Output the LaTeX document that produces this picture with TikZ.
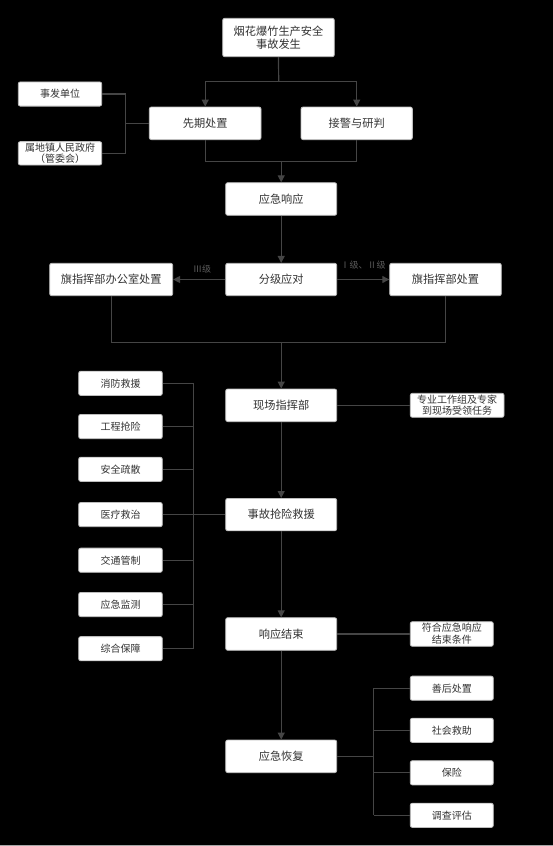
\documentclass[tikz,border=0pt]{standalone}
\usepackage{fontspec}
\setmainfont{Noto Sans CJK SC}
\usetikzlibrary{arrows.meta}
\definecolor{lncol}{HTML}{454545}
\definecolor{bxline}{HTML}{BDBDBD}
\definecolor{txcol}{HTML}{333333}
\definecolor{lbcol}{HTML}{5A5A5A}
\tikzset{
  bigbox/.style={draw=bxline, line width=0.8pt, fill=white, rounded corners=2pt, text=txcol,
    minimum width=111pt, minimum height=32.6pt, inner sep=0pt, align=center,
    font=\fontsize{11.2}{13.3}\selectfont},
  smallbox/.style={draw=bxline, line width=0.8pt, fill=white, rounded corners=2pt, text=txcol,
    minimum width=83.4pt, minimum height=24.2pt, inner sep=0pt, align=center,
    font=\fontsize{10}{11.7}\selectfont},
  conn/.style={draw=lncol, line width=1.2pt},
  arr/.style={conn, -{Triangle[length=7pt,width=7pt]}},
  lbl/.style={text=lbcol, font=\fontsize{9}{10}\selectfont, inner sep=0pt}
}
\begin{document}
\begin{tikzpicture}[x=1pt,y=-1pt]
\fill[black] (0,0) rectangle (553,846);
\useasboundingbox (0,0) rectangle (553,846);
\draw[color=gray!70, line width=1pt] (0,845.5) -- (553,845.5);

% main column
\node[bigbox, minimum width=111.6pt, minimum height=38.4pt] (top) at (278.5,37.5) {烟花爆竹生产安全\\事故发生};
\node[bigbox, minimum width=111.7pt] (xq) at (205.2,123.3) {先期处置};
\node[bigbox, minimum width=111.3pt] (jj) at (356.7,123.3) {接警与研判};
\node[smallbox] (sf) at (60,94) {事发单位};
\node[smallbox, minimum height=23.4pt] (sd) at (60,153.3) {属地镇人民政府\\（管委会）};
\node[bigbox] (yjxy) at (281.2,199) {应急响应};
\node[bigbox, minimum height=32.4pt] (fj) at (281.2,279.5) {分级应对};
\node[bigbox, minimum width=123pt, minimum height=32.4pt] (qb) at (111.2,279.5) {旗指挥部办公室处置};
\node[bigbox, minimum width=111.6pt, minimum height=32.4pt] (qz) at (445.5,279.5) {旗指挥部处置};
\node[bigbox] (xc) at (281.2,405.3) {现场指挥部};
\node[smallbox, minimum width=93.7pt, minimum height=24pt] (zy) at (457.2,405.3) {专业工作组及专家\\到现场受领任务};
\node[bigbox, minimum height=32.4pt] (sg) at (281.2,514.6) {事故抢险救援};
\node[bigbox] (xyjs) at (281.2,634) {响应结束};
\node[smallbox, minimum width=83pt, minimum height=24.6pt] (fh) at (451.8,634) {符合应急响应\\结束条件};
\node[bigbox] (yjhf) at (281.2,756.3) {应急恢复};

% left rescue boxes
\node[smallbox, minimum width=83.6pt] (l1) at (120.5,383.3) {消防救援};
\node[smallbox, minimum width=83.6pt] (l2) at (120.5,426.5) {工程抢险};
\node[smallbox, minimum width=83.6pt] (l3) at (120.5,469.3) {安全疏散};
\node[smallbox, minimum width=83.6pt] (l4) at (120.5,514.6) {医疗救治};
\node[smallbox, minimum width=83.6pt] (l5) at (120.5,560.2) {交通管制};
\node[smallbox, minimum width=83.6pt] (l6) at (120.5,604.5) {应急监测};
\node[smallbox, minimum width=83.6pt] (l7) at (120.5,648.7) {综合保障};

% right recovery boxes
\node[smallbox, minimum width=83pt] (r1) at (451.8,688.2) {善后处置};
\node[smallbox, minimum width=83pt] (r2) at (451.8,730.3) {社会救助};
\node[smallbox, minimum width=83pt] (r3) at (451.8,772.8) {保险};
\node[smallbox, minimum width=83pt] (r4) at (451.8,815.3) {调查评估};

% coordinates
\coordinate (t1) at (278.7,81.7);
\coordinate (b1) at (125.7,123.3);
\coordinate (m1) at (281.2,161.3);
\coordinate (m2) at (281.2,342.7);
\coordinate (v1) at (193.7,383.3);
\coordinate (v2) at (193.7,648.7);
\coordinate (v3) at (373.7,688.2);
\coordinate (v4) at (373.7,815.3);

% connectors
\draw[conn] (top.south) -- (t1);
\draw[arr] (t1) -| (xq.north);
\draw[arr] (t1) -| (jj.north);
\draw[conn] (sf.east) -| (b1) |- (sd.east);
\draw[conn] (b1) -- (xq.west);
\draw[conn] (xq.south) |- (m1) -| (jj.south);
\draw[arr] (m1) -- (yjxy.north);
\draw[arr] (yjxy.south) -- (fj.north);
\draw[arr] (fj.west) -- (qb.east);
\draw[arr] (fj.east) -- (qz.west);
\node[lbl] (lab3) at (202,269) {Ⅲ级};
\node[lbl] (lab12) at (363,265) {Ⅰ级、Ⅱ级};
\draw[conn] (qb.south) |- (m2) -| (qz.south);
\draw[arr] (m2) -- (xc.north);
\draw[conn] (xc.east) -- (zy.west);
\draw[arr] (xc.south) -- (sg.north);
\draw[conn] (v1) -- (v2);
\foreach \n in {l1,l2,l3,l5,l6,l7} { \draw[conn] (\n.east) -- (\n.east -| v1); }
\draw[conn] (l4.east) -- (sg.west);
\draw[arr] (sg.south) -- (xyjs.north);
\draw[conn] (xyjs.east) -- (fh.west);
\draw[arr] (xyjs.south) -- (yjhf.north);
\draw[conn] (v3) -- (v4);
\draw[conn] (yjhf.east) -- (yjhf.east -| v3);
\foreach \n in {r1,r2,r3,r4} { \draw[conn] (\n.west) -- (\n.west -| v3); }
\end{tikzpicture}
\end{document}
